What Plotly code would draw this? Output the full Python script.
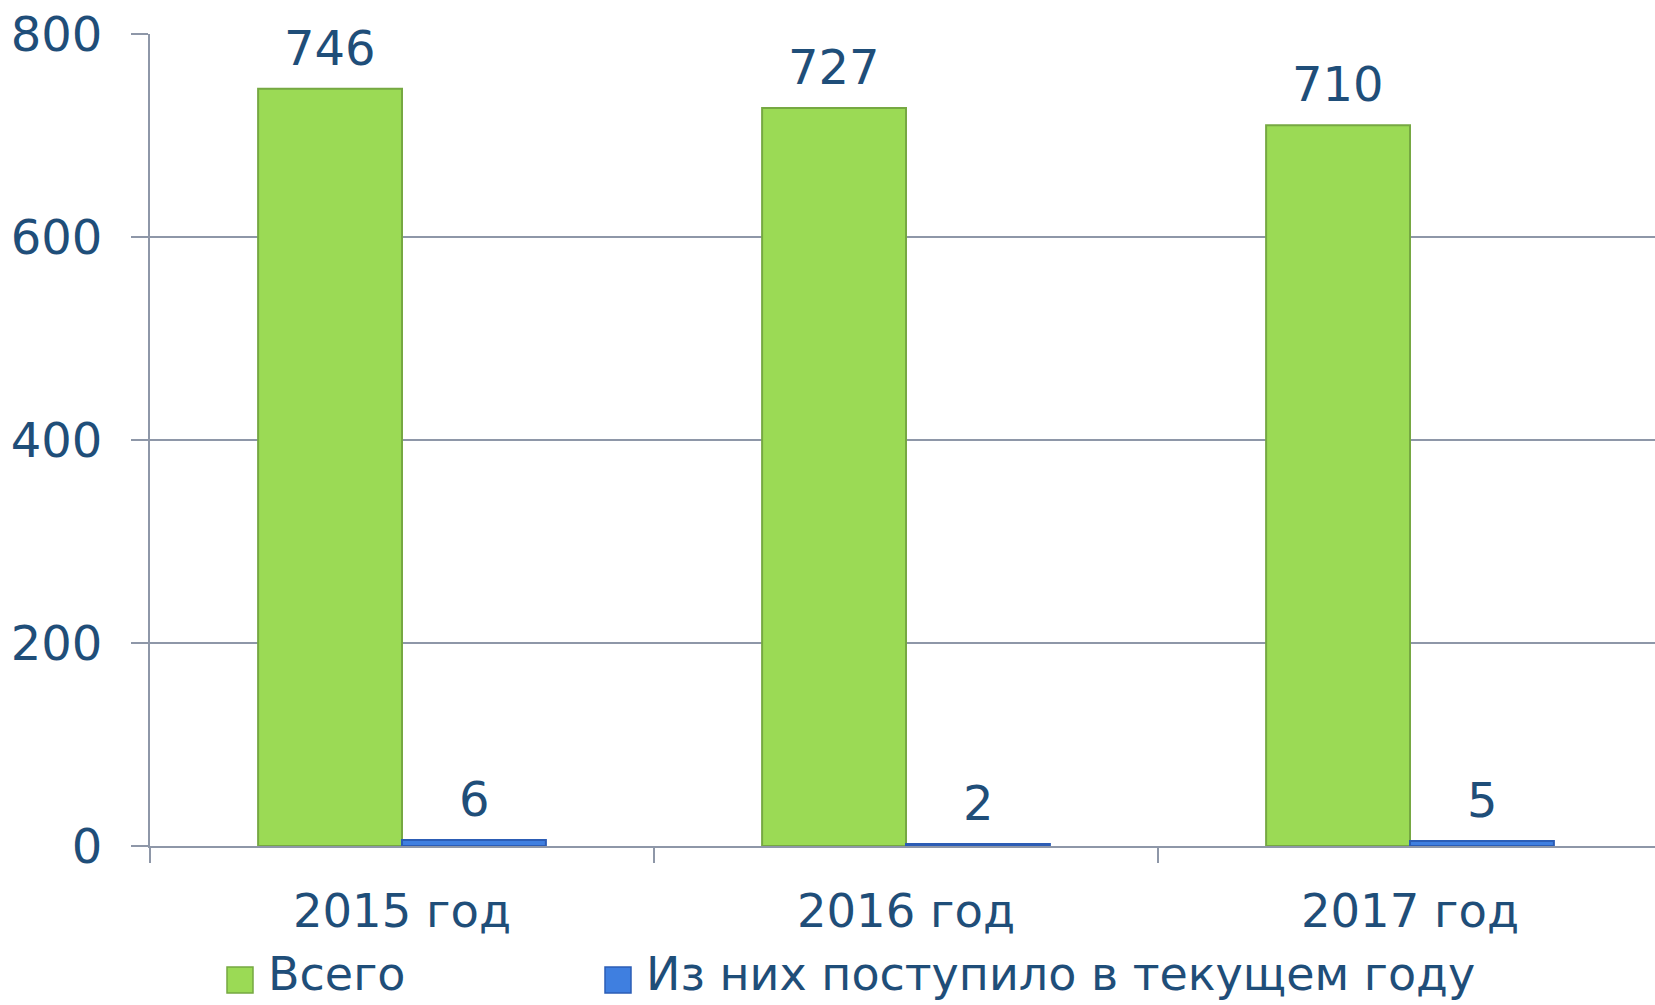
import plotly.graph_objects as go

categories = ["2015 год", "2016 год", "2017 год"]
series_names = ["Всего", "Из них поступило в текущем году"]
total = [746, 727, 710]
new_this_year = [6, 2, 5]
y_ticks = [0, 200, 400, 600, 800]

W, H = 1655, 1005
L, T, B = 150, 34, 159
plot_w = W - L
plot_h = H - T - B
cat_px = 504
TXT = "#1F4E79"
GRID = "#8E97A8"
FONT = "DejaVu Sans, Verdana, sans-serif"

fig = go.Figure()
fig.add_trace(go.Bar(x=categories, y=total, name=series_names[0],
                     marker=dict(color="#9BDA55", line=dict(color="#76A842", width=2)),
                     showlegend=False))
fig.add_trace(go.Bar(x=categories, y=new_this_year, name=series_names[1],
                     marker=dict(color="#3F7FE0", line=dict(color="#2C5DB5", width=2)),
                     showlegend=False))

off = 0.143
for i, (a, b) in enumerate(zip(total, new_this_year)):
    for dx, v in ((-off, a), (off, b)):
        fig.add_annotation(x=i + dx, y=v, text=str(v), showarrow=False,
                           xref="x", yref="y", yanchor="bottom", yshift=11,
                           font=dict(size=48, color=TXT, family=FONT))

# manual legend
def px_x(p):
    return (p - L) / plot_w

def px_y(p):
    return (T + plot_h - p) / plot_h

legend_items = [(227, 266, "#9BDA55", "#76A842"), (605, 644, "#3F7FE0", "#2C5DB5")]
for (sx, tx, fc, lc), name in zip(legend_items, series_names):
    fig.add_shape(type="rect", xref="paper", yref="paper",
                  x0=px_x(sx), x1=px_x(sx + 26), y0=px_y(993), y1=px_y(967),
                  fillcolor=fc, line=dict(color=lc, width=1.5))
    fig.add_annotation(x=px_x(tx), y=px_y(1003), xref="paper", yref="paper",
                       text=name, showarrow=False, xanchor="left", yanchor="bottom",
                       font=dict(size=46, color=TXT, family=FONT))

fig.update_layout(
    width=W, height=H,
    margin=dict(l=L, r=0, t=T, b=B),
    paper_bgcolor="white", plot_bgcolor="white",
    barmode="group", bargap=0.429, bargroupgap=0,
    font=dict(family=FONT, color=TXT, size=45),
)
fig.update_xaxes(type="category", range=[-0.5, -0.5 + plot_w / cat_px],
                 showline=True, linecolor=GRID, linewidth=2,
                 ticks="outside", tickson="boundaries", ticklen=15, tickwidth=2, tickcolor=GRID,
                 ticklabelstandoff=23,
                 tickfont=dict(size=46.5, color=TXT, family=FONT), showgrid=False)
fig.update_yaxes(range=[0, 800], tickvals=y_ticks,
                 showline=True, linecolor=GRID, linewidth=2,
                 ticks="outside", ticklen=17, tickwidth=2, tickcolor=GRID,
                 ticklabelstandoff=19,
                 showgrid=True, gridcolor=GRID, gridwidth=2, zeroline=False,
                 tickfont=dict(size=48, color=TXT, family=FONT))

fig.write_html("out.html", config={"displayModeBar": False},
               post_script="document.body.style.margin='0px';document.body.style.overflow='hidden';")
